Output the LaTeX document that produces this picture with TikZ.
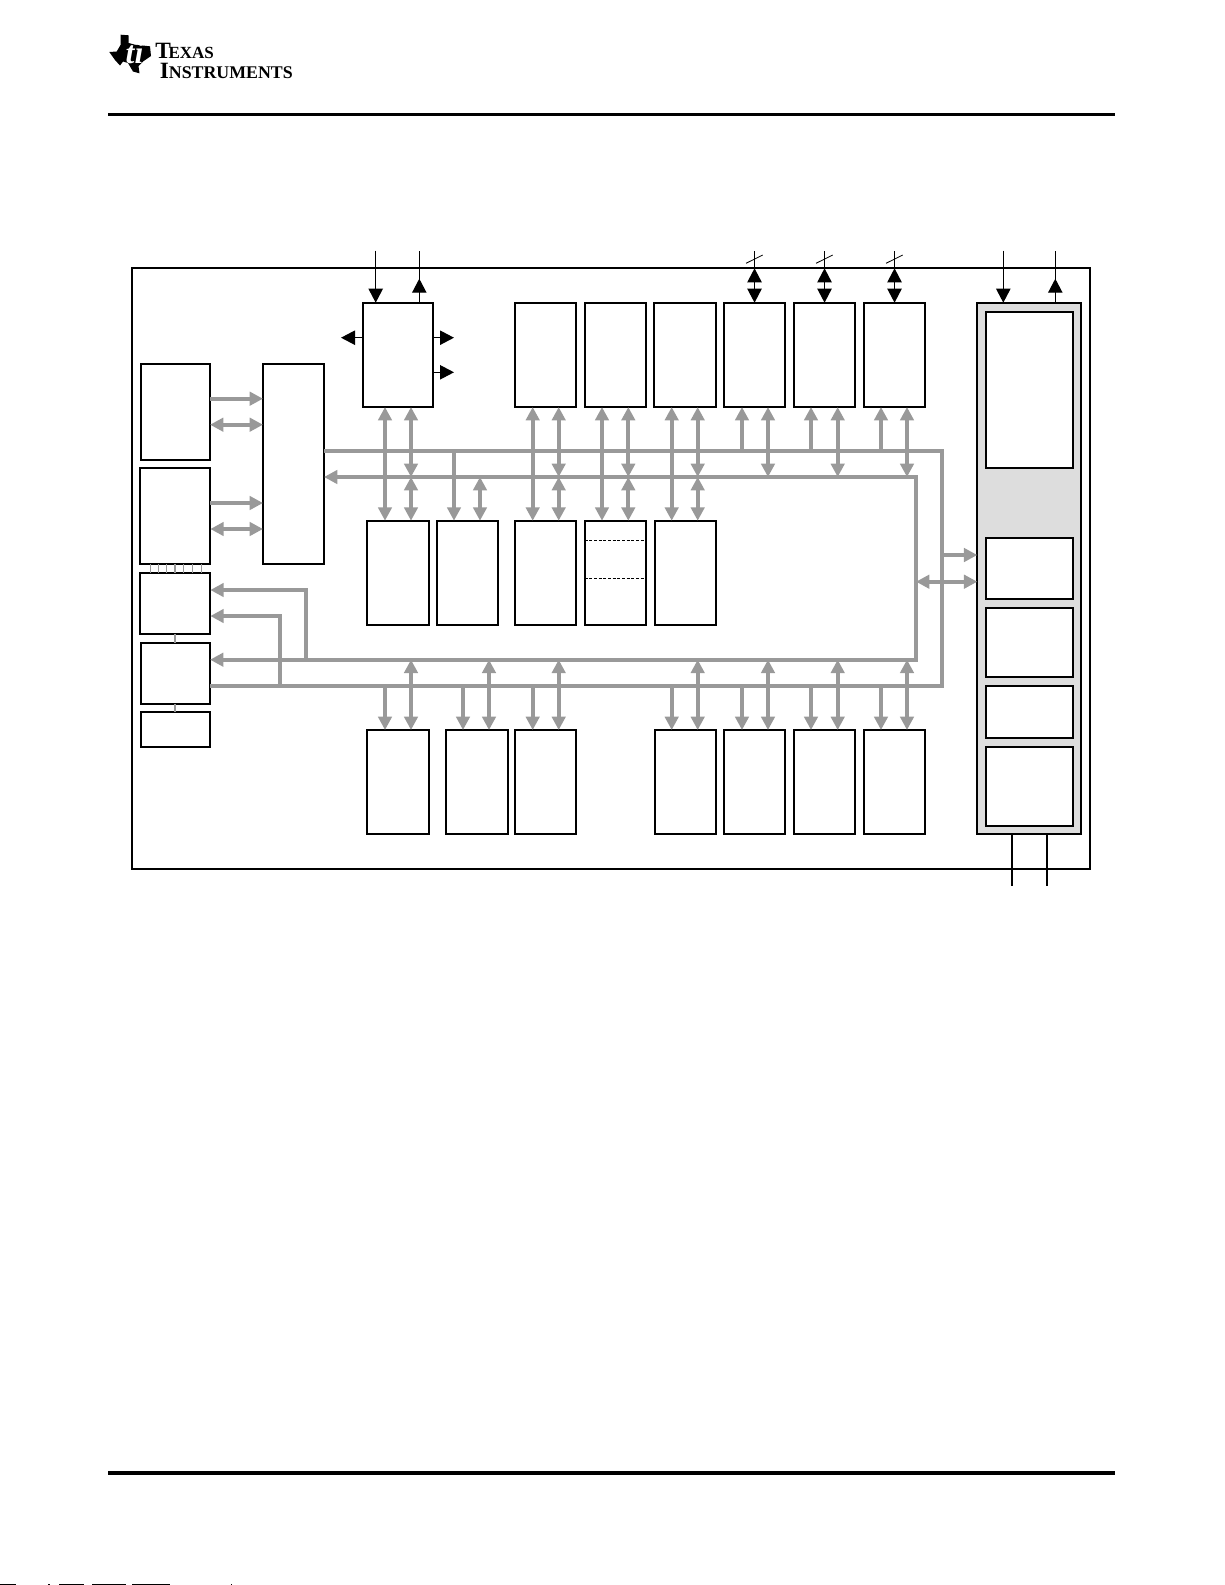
\documentclass[tikz,border=0pt]{standalone}
\usepackage{fontspec}
\usepackage{xcolor}
\setmainfont{Liberation Serif}
\usetikzlibrary{arrows.meta}

\definecolor{busgrey}{HTML}{999999}
\definecolor{panelgrey}{HTML}{DDDDDD}

\tikzset{
    blockbox/.style={draw, line width=1.2pt, fill=white, inner sep=0pt, outer sep=0pt, anchor=north west},
    stdbox/.style={blockbox, minimum width=37pt, minimum height=62.6pt},
    bus/.style={draw=busgrey, line width=2.6pt},
    bustip/.style={bus, -{Triangle[width=8pt,length=8pt]}},
    busboth/.style={bus, {Triangle[width=8pt,length=8pt]}-{Triangle[width=8pt,length=8pt]}},
    sig/.style={line width=0.75pt},
    sigtip/.style={sig, -{Triangle[width=8.6pt,length=8.4pt]}},
    sigboth/.style={sig, {Triangle[width=8.6pt,length=8.4pt]}-{Triangle[width=8.6pt,length=8.4pt]}},
    rule/.style={line width=2pt}
}

\begin{document}
\begin{tikzpicture}[x=0.6pt, y=-0.6pt]
    \useasboundingbox (0,0) rectangle (1225,1585);

    % Page header and footer
    \fill (120.7,34.7) -- (128.7,35.3) -- (128.7,43) -- (135,44.7) -- (150,46.3) -- (151,56) -- (143,61.5)
        -- (138.5,66) -- (139.5,73.3) -- (133,71.5) -- (128,63) -- (123,61.5) -- (120,65.5) -- (115,60)
        -- (109.3,52) -- (116.7,51.5) -- (120.7,44.7) -- cycle;
    \node[white, inner sep=0pt] (logoti) at (134.5,53) {\fontsize{19}{19}\selectfont\bfseries\itshape ti};
    \node[anchor=north west, inner sep=0pt, align=left, font=\bfseries] (logotext) at (155,43.2) {%
        \fontsize{14}{11.7}\selectfont T\kern-1.4pt\fontsize{10.2}{11.7}\selectfont EXAS\\[0pt]
        \hspace{2.7pt}\fontsize{14}{11.7}\selectfont I\fontsize{10.7}{11.7}\selectfont NSTRUMENTS};
    \coordinate (rulea) at (108,114.7);
    \coordinate (ruleb) at (108,1473);
    \draw[rule] (rulea) -- ++(1007,0);
    \draw[rule] (ruleb) -- ++(1007,0);
    \foreach \xa/\xb in {0/16, 48/50, 59/84, 92/126, 132/170, 231/232} {
        \fill (\xa,1584) rectangle (\xb,1585);
    }

    % Outer frame and right panel
    \node[blockbox, minimum width=574.8pt, minimum height=360.6pt] (frame) at (132,268) {};
    \node[blockbox, fill=panelgrey, minimum width=62.2pt, minimum height=318.8pt] (panel) at (977.3,302.7) {};
    \foreach \n/\ya/\h in {ina/311.7/93.8, inb/538/36.6, inc/607.7/41.6, ind/685.7/31.4, ine/747/47.2} {
        \node[blockbox, minimum width=52.2pt, minimum height=\h pt] (\n) at (986,\ya) {};
    }

    % Left column
    \node[blockbox, minimum width=41.6pt, minimum height=57.8pt] (cpua) at (140.7,363.7) {};
    \node[blockbox, minimum width=42.2pt, minimum height=57.6pt] (cpub) at (140,468) {};
    \node[blockbox, minimum width=42.2pt, minimum height=36.8pt] (cpuc) at (140,572.7) {};
    \node[blockbox, minimum width=41.6pt, minimum height=36.8pt] (cpud) at (140.7,642.7) {};
    \node[blockbox, minimum width=41.6pt, minimum height=21pt] (cpue) at (140.7,712) {};
    \node[blockbox, minimum width=36.6pt, minimum height=120.2pt] (bridge) at (263,363.7) {};
    \node[blockbox, minimum width=42.2pt, minimum height=62.6pt] (ctrl) at (363,302.7) {};

    % Rows of blocks
    \foreach \n/\x in {topa/514.7, topb/584.7, topc/654, topd/723.7, tope/793.7, topf/863.7} {
        \node[stdbox] (\n) at (\x,302.7) {};
    }
    \foreach \n/\x in {mida/367, midb/436.7, midc/514.7, midd/584.7, mide/654.7} {
        \node[stdbox] (\n) at (\x,520.7) {};
    }
    \foreach \n/\x in {bota/367, botb/446, botc/514.7, botd/654.7, bote/723.7, botf/793.7, botg/863.7} {
        \node[stdbox] (\n) at (\x,730) {};
    }
    \coordinate (dasha) at (0,540.3);
    \coordinate (dashb) at (0,578.3);
    \draw[dash pattern=on 1.8pt off 1pt, line width=0.5pt] (midd.west |- dasha) -- (midd.east |- dasha);
    \draw[dash pattern=on 1.8pt off 1pt, line width=0.5pt] (midd.west |- dashb) -- (midd.east |- dashb);

    % Buses
    \coordinate (busa) at (0,451);
    \coordinate (busb) at (0,477);
    \coordinate (busc) at (0,659.7);
    \coordinate (busd) at (0,686);
    \coordinate (railb) at (916,0);
    \coordinate (raila) at (941.7,0);
    \draw[bus] (bridge.east |- busa) -- (raila |- busa) -- (raila |- busd) -- (cpud.east |- busd);
    \draw[busboth] (bridge.east |- busb) -- (railb |- busb) -- (railb |- busc) -- (cpud.east |- busc);

    % Branches to the left column
    \coordinate (brancha) at (305.7,590);
    \coordinate (branchb) at (280,616);
    \draw[bustip] (brancha |- busc) -- (brancha) -- (cpuc.east |- brancha);
    \draw[bustip] (branchb |- busd) -- (branchb) -- (cpuc.east |- branchb);

    % Links to the bridge
    \foreach \n/\ya/\yb in {cpua/398.7/424.7, cpub/503/529} {
        \coordinate (linka) at (0,\ya);
        \coordinate (linkb) at (0,\yb);
        \draw[bustip] (\n.east |- linka) -- (bridge.west |- linka);
        \draw[busboth] (\n.east |- linkb) -- (bridge.west |- linkb);
    }

    % Upper block pairs
    \foreach \u/\l/\a/\b in {ctrl/mida/385/411, topa/midc/532.7/558.7, topb/midd/602/628.3, topc/mide/671.7/697.7} {
        \coordinate (lanea) at (\a,0);
        \coordinate (laneb) at (\b,0);
        \draw[busboth] (\u.south -| lanea) -- (\l.north -| lanea);
        \draw[busboth] (\u.south -| laneb) -- (laneb |- busb);
        \draw[busboth] (laneb |- busb) -- (\l.north -| laneb);
    }
    \foreach \u/\a/\b in {topd/742/768, tope/811/837.7, topf/881/907} {
        \coordinate (lanea) at (\a,0);
        \coordinate (laneb) at (\b,0);
        \draw[bustip] (lanea |- busa) -- (\u.south -| lanea);
        \draw[busboth] (\u.south -| laneb) -- (laneb |- busb);
    }
    \coordinate (lanea) at (454,0);
    \coordinate (laneb) at (480,0);
    \draw[bustip] (lanea |- busa) -- (midb.north -| lanea);
    \draw[busboth] (laneb |- busb) -- (midb.north -| laneb);

    % Lower blocks
    \foreach \l/\a/\b in {bota/385/411, botb/463/489, botc/532.7/558.7, botd/671.7/697.7, bote/742/768, botf/811/837.7, botg/881/907} {
        \coordinate (lanea) at (\a,0);
        \coordinate (laneb) at (\b,0);
        \draw[bustip] (lanea |- busd) -- (\l.north -| lanea);
        \draw[busboth] (laneb |- busc) -- (\l.north -| laneb);
    }

    % Links to the right panel
    \coordinate (linka) at (0,555);
    \coordinate (linkb) at (0,581.7);
    \draw[bustip] (raila |- linka) -- (panel.west |- linka);
    \draw[busboth] (railb |- linkb) -- (panel.west |- linkb);

    % Ties in the left column
    \foreach \x in {150.7, 158.7, 166.7, 183.3, 192.7, 201} {
        \coordinate (tie) at (\x,0);
        \draw[busgrey, line width=0.6pt] (cpub.south -| tie) -- (cpuc.north -| tie);
    }
    \coordinate (tie) at (175,0);
    \draw[busgrey, line width=1.2pt] (cpub.south -| tie) -- (cpuc.north -| tie);
    \draw[busgrey, line width=1.2pt] (cpuc.south -| tie) -- (cpud.north -| tie);
    \draw[busgrey, line width=1.2pt] (cpud.south -| tie) -- (cpue.north -| tie);

    % External signals
    \coordinate (pina) at (375.7,250.7);
    \coordinate (pinb) at (419.3,250.7);
    \coordinate (pinc) at (1003.3,250.7);
    \coordinate (pind) at (1055.3,250.7);
    \draw[sigtip] (pina) -- (ctrl.north -| pina);
    \draw[sigtip] (pinc) -- (panel.north -| pinc);
    \draw[sig] (ctrl.north -| pinb) -- (pinb);
    \draw[sig] (panel.north -| pind) -- (pind);
    \draw[sigtip] (ctrl.north -| pinb) -- ++(0,-24);
    \draw[sigtip] (panel.north -| pind) -- ++(0,-24);

    \coordinate (outa) at (341,337.7);
    \coordinate (outb) at (454,337.7);
    \coordinate (outc) at (454,372.3);
    \draw[sigtip] (ctrl.west |- outa) -- (outa);
    \draw[sigtip] (ctrl.east |- outb) -- (outb);
    \draw[sigtip] (ctrl.east |- outc) -- (outc);

    \foreach \n in {topd, tope, topf} {
        \draw[sig] (\n.north) -- ++(0,-52);
        \draw[sigboth] (\n.north) -- ++(0,-34.4);
        \draw[line width=0.5pt] ([shift={(-8.5,-39.4)}]\n.north) -- ++(16.7,-8.3);
    }

    \coordinate (pine) at (1012,885.7);
    \coordinate (pinf) at (1047,885.7);
    \draw[line width=0.9pt] (panel.south -| pine) -- (pine);
    \draw[line width=0.9pt] (panel.south -| pinf) -- (pinf);

\end{tikzpicture}
\end{document}
